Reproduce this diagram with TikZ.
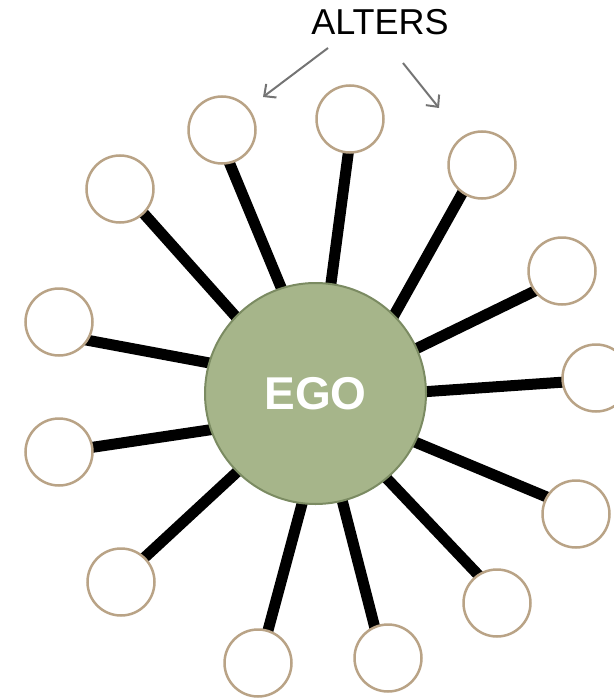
\documentclass[tikz,border=0pt]{standalone}
\usepackage{fontspec}
\setmainfont{Liberation Sans}
\usepackage{tikz}
\usetikzlibrary{
    arrows.meta,   % Arrow tips
    backgrounds    % Background layers
}
\definecolor{egogreen}{HTML}{A6B58A}
\definecolor{egoedge}{HTML}{7B8B62}
\definecolor{altertan}{HTML}{B9A386}
\definecolor{pointergray}{HTML}{747474}

\begin{document}
\begin{tikzpicture}[x=1pt,y=-1pt,
    ego/.style={circle,draw=egoedge,line width=2pt,fill=egogreen,minimum size=221pt,inner sep=0pt,text=white,font=\fontsize{46}{46}\selectfont\bfseries},
    alter/.style={circle,draw=altertan,line width=2.5pt,fill=white,minimum size=67pt,inner sep=0pt},
    tie/.style={line width=11pt,shorten <=-8pt,shorten >=-12pt},
    pointer/.style={draw=pointergray,line width=2pt,-{Straight Barb[length=9pt,width=17pt]}}]
    \useasboundingbox (0,0) rectangle (613,698);
    % centre
    \node[ego] (ego) at (315.5,393.5) {EGO};
    % ring of alters
    \foreach \n/\px/\py in {1/222/130, 2/350/119, 3/482/165, 4/562/271, 5/596/378,
        6/576/514, 7/497/603, 8/388/658, 9/258/663, 10/121/582, 11/59/452,
        12/59/322, 13/120/189}{
        \node[alter] (alter\n) at (\px,\py) {};
    }
    % ties: anchor on the alter / anchor on the ego
    \begin{scope}[on background layer]
        \foreach \n/\a/\b in {1/283/108, 2/267/82, 3/235/45, 4/216/24, 5/187/1,
            6/150/-26, 7/124/-50, 8/113/-76, 9/73/-97, 10/46/-135, 11/8/-161,
            12/-32/164, 13/-46/136}{
            \draw[tie] (alter\n.\a) -- (ego.\b);
        }
    \end{scope}
    % label and pointers
    \node[font=\fontsize{36}{36}\selectfont] (label) at (380,22) {ALTERS};
    \coordinate (tipL) at (263,97);
    \coordinate (tipR) at (439,108);
    \coordinate (tailL) at (328,48);
    \coordinate (tailR) at (403,63);
    \draw[pointer] (tailL) -- (tipL);
    \draw[pointer] (tailR) -- (tipR);
\end{tikzpicture}
\end{document}
